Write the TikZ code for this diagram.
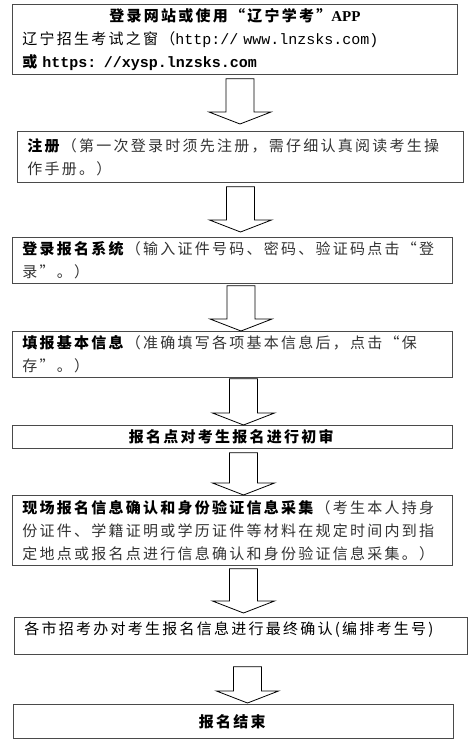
\documentclass[tikz,border=0pt]{standalone}
\usepackage{fontspec}
\setmainfont{Noto Sans CJK SC}[LetterSpace=15]
\newfontfamily\urlfont{Liberation Mono}
\newfontfamily\latfont{Liberation Serif}
\usetikzlibrary{calc}
\definecolor{BoxLine}{HTML}{4A4A4A}
\definecolor{NoteGray}{HTML}{333333}
% hollow down arrow between two boxes: from, to, x, top gap, bottom gap
\newcommand{\flowarrow}[5]{%
  \draw[bigarrow] let \p1=(#1.south), \p2=(#2.north) in
    (#3pt-14pt,\y1-#4pt) -- (#3pt+14pt,\y1-#4pt) -- (#3pt+14pt,\y2+#5pt+12pt)
    -- (#3pt+31pt,\y2+#5pt+12pt) -- (#3pt,\y2+#5pt) -- (#3pt-31pt,\y2+#5pt+12pt)
    -- (#3pt-14pt,\y2+#5pt+12pt) -- cycle;}
\newcommand{\note}[1]{{\color{NoteGray}#1}}

\begin{document}
\begin{tikzpicture}[x=1pt,y=-1pt,
 stagebox/.style={draw=BoxLine,line width=.8pt,anchor=north west,inner xsep=10pt,
                  inner ysep=0pt,align=left,font=\fontsize{15}{23}\selectfont},
 bigarrow/.style={draw=black,line width=.8pt,fill=white,line join=miter}]
\useasboundingbox (0,0) rectangle (471,745);
\node[stagebox,text width=425pt,minimum height=70pt] (site) at (12,4)
  {\makebox[\linewidth]{\textbf{登录网站或使用“辽宁学考”\latfont APP}}\\
   辽宁招生考试之窗（{\urlfont http:// www.lnzsks.com)}\\
   \textbf{或 {\urlfont https: //xysp.lnzsks.com}}};
\node[stagebox,text width=426pt,minimum height=51pt] (reg) at (17,131)
  {\textbf{注册}\note{（第一次登录时须先注册，需仔细认真阅读考生操}\\
   \note{作手册。）}};
\node[stagebox,text width=420pt,minimum height=46pt] (login) at (12,237)
  {\textbf{登录报名系统}\note{（输入证件号码、密码、验证码点击“登}\\
   \note{录”。）}};
\node[stagebox,text width=420pt,minimum height=46pt] (info) at (12,331)
  {\textbf{填报基本信息}\note{（准确填写各项基本信息后，点击“保}\\
   \note{存”。）}};
\node[stagebox,text width=420pt,minimum height=23pt,align=center] (check) at (12,425)
  {\textbf{报名点对考生报名进行初审}};
\node[stagebox,text width=420pt,minimum height=70pt] (onsite) at (12,495)
  {\textbf{现场报名信息确认和身份验证信息采集}\note{（考生本人持身}\\
   \note{份证件、学籍证明或学历证件等材料在规定时间内到指}\\
   \note{定地点或报名点进行信息确认和身份验证信息采集。）}};
\node[stagebox,text width=433pt,text height=17pt,text depth=20pt] (confirm) at (14,617)
  {各市招考办对考生报名信息进行最终确认(编排考生号)};
\node[stagebox,text width=420pt,minimum height=34pt,align=center] (done) at (13,704)
  {\textbf{报名结束}};
\flowarrow{site}{reg}{240}{4}{7}
\flowarrow{reg}{login}{240.5}{4}{5}
\flowarrow{login}{info}{241}{2}{0}
\flowarrow{info}{check}{243.5}{1}{0}
\flowarrow{check}{onsite}{243.5}{4}{0}
\flowarrow{onsite}{confirm}{243.5}{3}{4}
\flowarrow{confirm}{done}{247.5}{12}{1}
\end{tikzpicture}
\end{document}
